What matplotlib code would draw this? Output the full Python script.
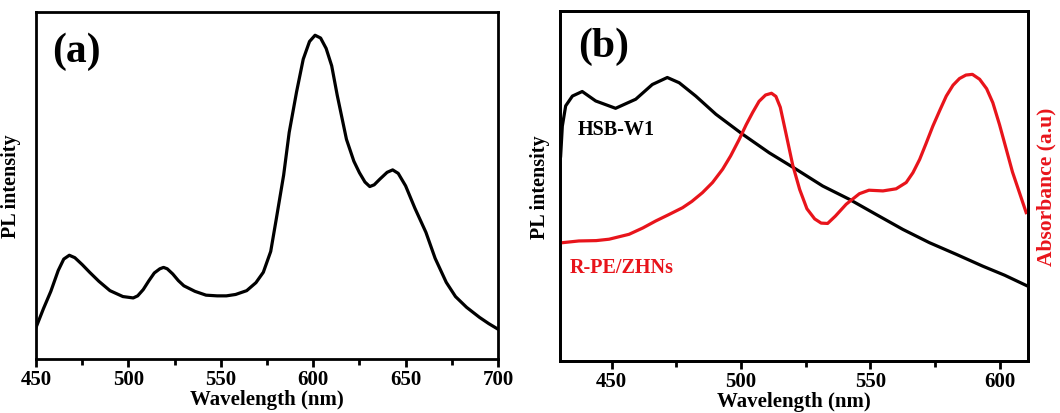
import numpy as np
import matplotlib
matplotlib.use("Agg")
import matplotlib.pyplot as plt
from matplotlib.ticker import MultipleLocator

plt.rcParams['font.family'] = ['Liberation Serif', 'DejaVu Serif']
plt.rcParams['font.weight'] = 'bold'

# panel (a): PL spectrum
wl_a = [450, 454, 458, 462, 465, 468, 471, 475, 479, 484, 490, 497, 502.6, 505, 508, 511,
        514, 517, 519, 521, 524, 527, 530, 536, 542, 548, 553, 558, 564, 569, 573, 577,
        580, 584, 587, 591, 594.6, 598, 601, 604, 607, 610, 613, 618, 622, 625, 628,
        630.6, 633, 636, 640, 643, 646, 650, 655, 661, 666, 672, 677, 683, 690, 695, 700]
pl_a = [9.1, 14.5, 19.5, 25.5, 28.8, 29.9, 29.2, 27.2, 25.0, 22.4, 19.7, 18.0, 17.6,
        18.2, 20.0, 22.5, 24.8, 26.0, 26.4, 26.0, 24.5, 22.6, 21.1, 19.5, 18.4, 18.2,
        18.2, 18.6, 19.7, 22.0, 25.0, 31.0, 40.3, 53.0, 65.3, 77.0, 86.4, 91.5, 93.3,
        92.5, 89.5, 84.5, 76.0, 63.3, 57.0, 53.7, 51.0, 49.7, 50.2, 51.8, 53.8, 54.5,
        53.5, 49.9, 43.5, 36.5, 29.0, 22.1, 18.0, 14.9, 12.0, 10.2, 8.6]

# panel (b): HSB-W1 emission (left axis)
wl_pl = [430.25, 430.9, 432.2, 434.8, 438.6, 443.8, 451.5, 459.3, 465.7, 471.5, 476.1,
         482.5, 490.3, 500.6, 510.9, 521.3, 531.6, 541.9, 552.2, 562.6, 572.9, 583.2,
         593.5, 602.0, 610.3]
pl_b = [58.6, 67.1, 72.9, 75.7, 77.0, 74.3, 72.2, 74.8, 79.0, 81.0, 79.5, 75.7, 70.5,
        64.8, 59.5, 54.8, 50.0, 46.2, 41.9, 37.6, 33.8, 30.5, 27.1, 24.5, 21.6]

# panel (b): R-PE/ZHNs absorbance (right axis)
wl_abs = [430.9, 437.3, 444.0, 449.0, 456.7, 462.0, 467.0, 472.0, 477.4, 481.0, 485.1,
          489.0, 492.9, 496.0, 499.3, 502.0, 504.5, 507.0, 509.5, 511.8, 513.5, 515.2,
          517.4, 520.0, 522.7, 525.5, 528.5, 531.0, 533.5, 536.5, 540.7, 545.8, 549.5,
          554.9, 560.0, 563.9, 566.5, 569.1, 571.5, 574.2, 577.0, 579.4, 582.0, 584.5,
          587.0, 589.5, 592.3, 595.0, 597.4, 600.0, 602.6, 605.0, 607.7, 610.3]
absb = [33.8, 34.3, 34.4, 34.8, 36.2, 38.0, 40.0, 41.8, 43.8, 45.6, 48.1, 51.0, 54.8,
        58.6, 63.3, 67.5, 71.0, 74.2, 76.0, 76.5, 75.6, 72.5, 65.0, 56.0, 49.0, 43.5, 40.6,
        39.4, 39.3, 41.4, 44.8, 47.8, 48.8, 48.6, 49.2, 51.0, 53.8, 57.6, 62.0, 67.1,
        71.8, 75.7, 78.8, 80.7, 81.7, 81.9, 80.5, 77.8, 73.8, 67.5, 60.5, 54.0, 48.1, 42.4]

fig = plt.figure(figsize=(10.6, 4.14), dpi=100)
ax1 = fig.add_axes([0.034, 0.1304, 0.4358, 0.8382])
ax2 = fig.add_axes([0.5283, 0.1256, 0.4415, 0.8454])


def style_axes(ax, xmin, xmax):
    ax.set_xlim(xmin, xmax)
    ax.set_ylim(0, 100)
    ax.set_yticks([])
    ax.xaxis.set_major_locator(MultipleLocator(50))
    ax.xaxis.set_minor_locator(MultipleLocator(25))
    ax.tick_params(axis='x', which='major', direction='out', length=6, width=2,
                   labelsize=15, pad=1)
    ax.tick_params(axis='x', which='minor', direction='out', length=4, width=2)
    for sp in ax.spines.values():
        sp.set_linewidth(2)
    for lab in ax.get_xticklabels():
        lab.set_fontweight('bold')
    ax.set_xlabel('Wavelength (nm)', fontsize=15, fontweight='bold', labelpad=0)


ax1.plot(wl_a, pl_a, color='black', lw=2.3, solid_joinstyle='round')
style_axes(ax1, 450, 700)
ax1.set_ylabel('PL intensity', fontsize=14.5, fontweight='bold', labelpad=11)
ax1.text(0.035, 0.888, '(a)', transform=ax1.transAxes, fontsize=30,
         fontweight='bold', ha='left', va='center')

ax2.plot(wl_pl, pl_b, color='black', lw=2.3, solid_joinstyle='round')
style_axes(ax2, 430, 611)
ax2.set_ylabel('PL intensity', fontsize=14.5, fontweight='bold', labelpad=7)
ax2.text(0.038, 0.9, '(b)', transform=ax2.transAxes, fontsize=30,
         fontweight='bold', ha='left', va='center')
ax2.text(0.038, 0.663, 'HSB-W1', transform=ax2.transAxes, fontsize=14.5,
         fontweight='bold', ha='left', va='center', color='black')
ax2.text(0.021, 0.269, 'R-PE/ZHNs', transform=ax2.transAxes, fontsize=14.5,
         fontweight='bold', ha='left', va='center', color='#e8141b')

ax3 = ax2.twinx()
ax3.plot(wl_abs, absb, color='#e8141b', lw=2.3, solid_joinstyle='round')
ax3.set_ylim(0, 100)
ax3.set_yticks([])
ax3.set_ylabel('Absorbance (a.u)', fontsize=15.5, fontweight='bold',
               color='#e8141b', labelpad=6)
for sp in ax3.spines.values():
    sp.set_linewidth(2)

fig.savefig('out.png', dpi=100)
